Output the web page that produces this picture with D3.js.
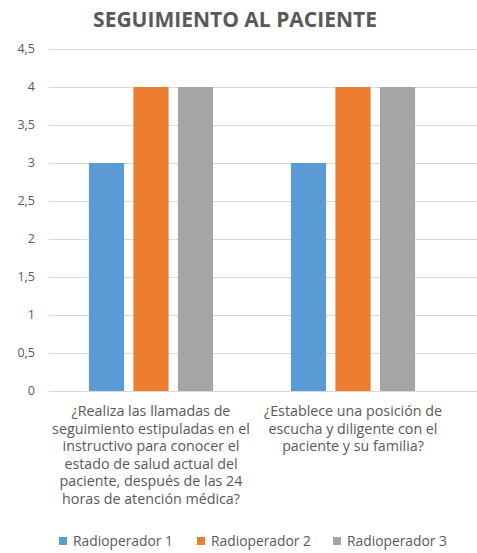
<!DOCTYPE html>
<html>
<head>
<meta charset="utf-8">
<script src="https://cdn.jsdelivr.net/npm/d3@7"></script>
<style>
  body { margin: 0; background: #fff; }
  text { font-family: "Open Sans", sans-serif; fill: #595959; }
</style>
</head>
<body>
<svg id="grafico" width="477" height="553"></svg>
<script>
// Datos
let categorias = ["p1", "p2"];
let etiquetas = [
  ["¿Realiza las llamadas de", "seguimiento estipuladas en el", "instructivo para conocer el",
   "estado de salud actual del", "paciente, después de las 24", "horas de atención médica?"],
  ["¿Establece una posición de", "escucha y diligente con el", "paciente y su familia?"]
];
let series = ["Radioperador 1", "Radioperador 2", "Radioperador 3"];
let radioperador1 = [3, 3];
let radioperador2 = [4, 4];
let radioperador3 = [4, 4];
let valores = [radioperador1, radioperador2, radioperador3];
let colores = ["#5B9BD5", "#ED7D31", "#A5A5A5"];
let ticks = [0, 0.5, 1, 1.5, 2, 2.5, 3, 3.5, 4, 4.5];

let svg = d3.select("#grafico");

// ajusta el tamaño de letra para que el texto mida "ancho"
function ajustar(sel, ancho) {
  let fs = parseFloat(sel.style("font-size"));
  let w = sel.node().getComputedTextLength();
  return fs * ancho / w;
}

// Título
let titulo = svg.append("text")
  .attr("x", 235)
  .attr("y", 27)
  .attr("text-anchor", "middle")
  .style("font-size", "20px")
  .style("font-weight", "bold")
  .text("SEGUIMIENTO AL PACIENTE");
titulo.style("font-size", ajustar(titulo, 284) + "px");

// Escalas
let fnY = d3.scaleLinear().domain([0, 4.5]).range([391, 49]);
let fnX0 = d3.scaleBand().domain(categorias).range([50, 454]).paddingInner(0.339).paddingOuter(0.1695);
let fnX1 = d3.scaleBand().domain(series).range([0, fnX0.bandwidth()]).paddingInner(0.21).paddingOuter(0.105);

// Líneas de división
svg.selectAll(".grade")
  .data(ticks)
  .enter()
  .append("line")
  .attr("x1", 49)
  .attr("x2", 477)
  .attr("y1", (d) => Math.round(fnY(d)) + 0.5)
  .attr("y2", (d) => Math.round(fnY(d)) + 0.5)
  .attr("stroke", "#D9D9D9")
  .attr("stroke-width", 1);

// Eje Y
svg.selectAll(".rotuloY")
  .data(ticks)
  .enter()
  .append("text")
  .attr("x", 35)
  .attr("y", (d) => fnY(d))
  .attr("dy", "0.35em")
  .attr("text-anchor", "end")
  .style("font-size", "12.5px")
  .text((d) => String(d).replace(".", ","));

// Barras
series.forEach((s, j) => {
  svg.selectAll(".barra" + j)
    .data(valores[j])
    .enter()
    .append("rect")
    .attr("x", (d, i) => fnX0(categorias[i]) + fnX1(s))
    .attr("y", (d) => fnY(d))
    .attr("width", fnX1.bandwidth())
    .attr("height", (d) => fnY(0) - fnY(d))
    .attr("fill", colores[j]);
});

// Rótulos de categorías
let rotulos = [];
categorias.forEach((c, i) => {
  let cx = fnX0(c) + fnX0.bandwidth() / 2;
  let t = svg.append("g")
    .selectAll("text")
    .data(etiquetas[i])
    .enter()
    .append("text")
    .attr("x", cx)
    .attr("y", (d, k) => 411 + k * 17.5)
    .attr("dy", "0.35em")
    .attr("text-anchor", "middle")
    .style("font-size", "14px")
    .text((d) => d);
  rotulos.push(t);
});
let fsRotulo = ajustar(d3.select(rotulos[0].nodes()[1]), 198);
rotulos.forEach((t) => t.style("font-size", fsRotulo + "px"));

// Leyenda
let legX = [59, 197, 333];
let leyenda = svg.selectAll(".leyenda")
  .data(series)
  .enter()
  .append("g")
  .attr("transform", (d, i) => `translate(${legX[i]},541)`);
leyenda.append("rect")
  .attr("x", 0)
  .attr("y", -4)
  .attr("width", 8)
  .attr("height", 8)
  .attr("fill", (d, i) => colores[i]);
let textoLeyenda = leyenda.append("text")
  .attr("x", 14)
  .attr("y", 0)
  .attr("dy", "0.35em")
  .style("font-size", "14px")
  .text((d) => d);
let fsLeyenda = ajustar(d3.select(textoLeyenda.node()), 100);
textoLeyenda.style("font-size", fsLeyenda + "px");
</script>
</body>
</html>
